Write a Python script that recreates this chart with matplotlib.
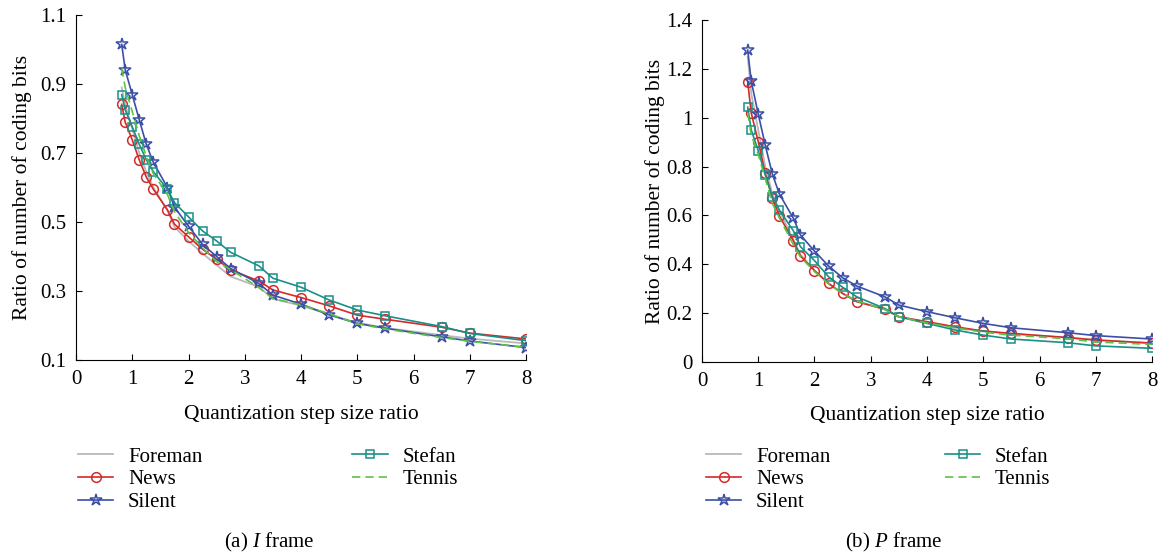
import numpy as np
import matplotlib
matplotlib.use("Agg")
import matplotlib.pyplot as plt

plt.rcParams['font.family'] = ['Liberation Serif', 'DejaVu Serif']
plt.rcParams['mathtext.fontset'] = 'custom'
plt.rcParams['mathtext.rm'] = 'Liberation Serif'
plt.rcParams['mathtext.it'] = 'Liberation Serif:italic'

# quantization step size ratio (H.264 Qstep values)
qstep = [0.8125, 0.875, 1.0, 1.125, 1.25, 1.375, 1.625, 1.75, 2.0, 2.25, 2.5,
         2.75, 3.25, 3.5, 4.0, 4.5, 5.0, 5.5, 6.5, 7.0, 8.0]

# I frame
i_foreman = [0.89, 0.84, 0.77, 0.70, 0.645, 0.60, 0.535, 0.486, 0.445, 0.409, 0.375,
             0.342, 0.312, 0.277, 0.258, 0.232, 0.208, 0.193, 0.172, 0.162, 0.148]
i_news = [0.841, 0.789, 0.738, 0.680, 0.630, 0.595, 0.535, 0.494, 0.457, 0.421, 0.392,
          0.361, 0.329, 0.303, 0.281, 0.257, 0.230, 0.218, 0.195, 0.178, 0.161]
i_silent = [1.015, 0.941, 0.869, 0.796, 0.725, 0.673, 0.600, 0.543, 0.488, 0.435, 0.400,
            0.365, 0.322, 0.288, 0.262, 0.231, 0.206, 0.192, 0.167, 0.155, 0.136]
i_stefan = [0.869, 0.825, 0.776, 0.725, 0.680, 0.646, 0.595, 0.556, 0.515, 0.474, 0.445,
            0.412, 0.373, 0.337, 0.311, 0.274, 0.245, 0.228, 0.197, 0.177, 0.156]
i_tennis = [0.945, 0.89, 0.82, 0.75, 0.69, 0.64, 0.58, 0.53, 0.47, 0.425, 0.385,
            0.362, 0.31, 0.278, 0.26, 0.234, 0.205, 0.19, 0.165, 0.154, 0.137]

# P frame
p_foreman = [1.25, 1.10, 0.95, 0.80, 0.69, 0.62, 0.50, 0.44, 0.375, 0.32, 0.28,
             0.25, 0.215, 0.185, 0.163, 0.14, 0.125, 0.115, 0.10, 0.09, 0.078]
p_news = [1.147, 1.020, 0.902, 0.772, 0.672, 0.598, 0.496, 0.434, 0.374, 0.322, 0.281,
          0.247, 0.216, 0.185, 0.165, 0.144, 0.127, 0.117, 0.100, 0.090, 0.077]
p_silent = [1.277, 1.150, 1.015, 0.887, 0.770, 0.688, 0.588, 0.520, 0.454, 0.393, 0.345,
            0.311, 0.267, 0.233, 0.206, 0.181, 0.158, 0.140, 0.120, 0.108, 0.094]
p_stefan = [1.043, 0.950, 0.865, 0.765, 0.677, 0.622, 0.537, 0.472, 0.415, 0.349, 0.306,
            0.267, 0.219, 0.185, 0.158, 0.131, 0.110, 0.094, 0.079, 0.066, 0.056]
p_tennis = [1.02, 0.93, 0.85, 0.75, 0.65, 0.59, 0.48, 0.43, 0.37, 0.32, 0.28,
            0.25, 0.215, 0.185, 0.16, 0.14, 0.122, 0.11, 0.095, 0.082, 0.072]

names = ['Foreman', 'News', 'Silent', 'Stefan', 'Tennis']

FS = 15
c_foreman = '#b9b9b9'
c_news = '#d42a2a'
c_silent = '#3b4fa6'
c_stefan = '#1a8f88'
c_tennis = '#5cc443'


def draw(ax, data):
    fo, ne, si, st, te = data
    ax.plot(qstep, fo, color=c_foreman, lw=1.3, label=names[0])
    ax.plot(qstep, ne, color=c_news, lw=1.2, marker='o', ms=7, mfc='none', mew=1.1, label=names[1])
    ax.plot(qstep, si, color=c_silent, lw=1.2, marker='*', ms=9, mfc='none', mew=1.1, label=names[2])
    ax.plot(qstep, st, color=c_stefan, lw=1.2, marker='s', ms=6, mfc='none', mew=1.1, label=names[3])
    ax.plot(qstep, te, color=c_tennis, lw=1.2, ls=(0, (5, 3)), label=names[4])
    ax.spines['top'].set_visible(False)
    ax.spines['right'].set_visible(False)
    ax.set_xlim(0, 8)
    ax.set_xticks(range(9))
    ax.tick_params(direction='in', length=4, labelsize=FS, pad=7)
    ax.set_xlabel('Quantization step size ratio', fontsize=FS + 0.5)
    ax.set_ylabel('Ratio of number of coding bits', fontsize=FS + 0.5)


fig = plt.figure(figsize=(11.67, 5.54), dpi=100)
ax1 = fig.add_axes([76 / 1167, 1 - 360 / 554, 450 / 1167, 345 / 554])
ax2 = fig.add_axes([702 / 1167, 1 - 362 / 554, 450 / 1167, 342 / 554])

draw(ax1, [i_foreman, i_news, i_silent, i_stefan, i_tennis])
ax1.set_ylim(0.1, 1.1)
ax1.set_yticks([0.1, 0.3, 0.5, 0.7, 0.9, 1.1])
ax1.set_yticklabels(['0.1', '0.3', '0.5', '0.7', '0.9', '1.1'])
ax1.yaxis.set_label_coords(-0.098, 0.5)
ax1.xaxis.set_label_coords(0.5, -0.13)

draw(ax2, [p_foreman, p_news, p_silent, p_stefan, p_tennis])
ax2.set_ylim(0, 1.4)
ax2.set_yticks([0, 0.2, 0.4, 0.6, 0.8, 1.0, 1.2, 1.4])
ax2.set_yticklabels(['0', '0.2', '0.4', '0.6', '0.8', '1', '1.2', '1.4'])
ax2.yaxis.set_label_coords(-0.082, 0.5)
ax2.xaxis.set_label_coords(0.5, -0.13)

h, l = ax1.get_legend_handles_labels()
fig.legend(h, l, loc='upper left', bbox_to_anchor=(78 / 1167, 1 - 447 / 554), ncol=2,
           frameon=False, fontsize=FS, borderpad=0, borderaxespad=0, handlelength=1.7,
           handletextpad=0.7, labelspacing=0.15, columnspacing=7.2)
fig.legend(h, l, loc='upper left', bbox_to_anchor=(706 / 1167, 1 - 447 / 554), ncol=2,
           frameon=False, fontsize=FS, borderpad=0, borderaxespad=0, handlelength=1.7,
           handletextpad=0.7, labelspacing=0.15, columnspacing=5.5)

fig.text(269 / 1167, 1 - 542 / 554, '(a) $I$ frame', ha='center', va='center', fontsize=FS)
fig.text(894 / 1167, 1 - 542 / 554, '(b) $P$ frame', ha='center', va='center', fontsize=FS)

fig.savefig('out.png', dpi=100)
